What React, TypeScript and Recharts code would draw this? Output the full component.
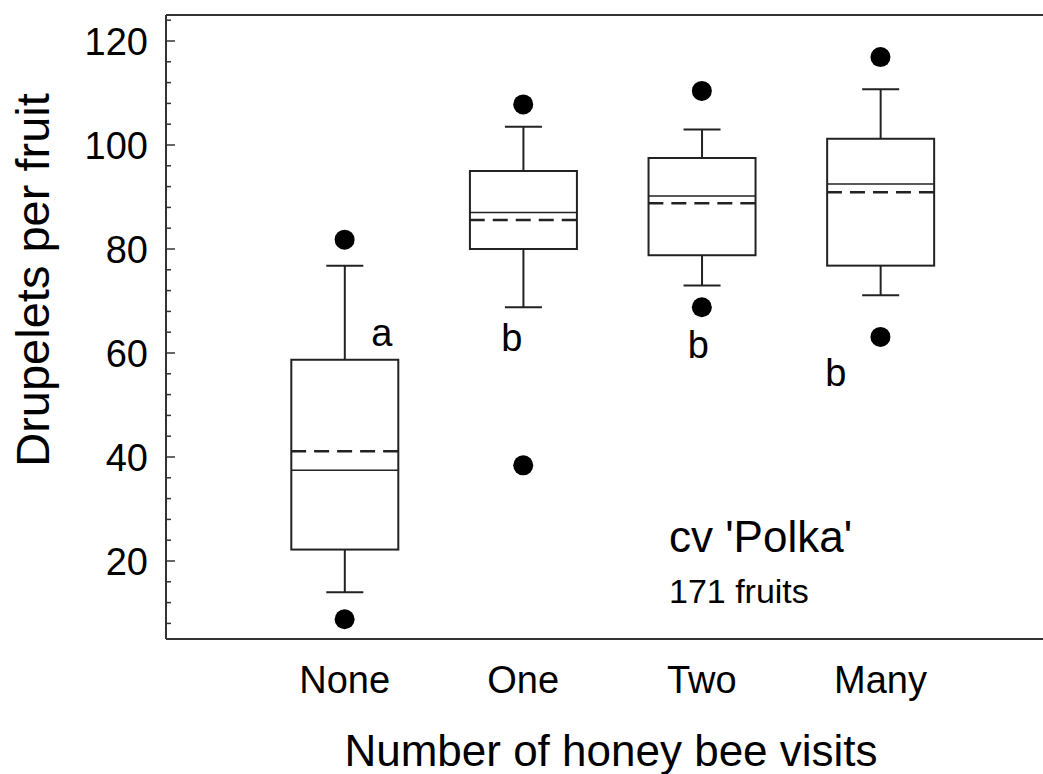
import React from 'react';
import { ComposedChart, XAxis, YAxis, Bar, Scatter, ReferenceLine, Label } from 'recharts';

const FONT = '"Liberation Sans", Arial, Helvetica, sans-serif';

// ---- data ----
const categories = ['None', 'One', 'Two', 'Many'];
const positions = [1, 2, 3, 4];
const q1 = [22.2, 80.0, 78.8, 76.8];
const q3 = [58.7, 95.0, 97.5, 101.2];
const medians = [37.45, 87.0, 90.2, 92.5];
const means = [41.1, 85.6, 88.8, 90.9];
const whiskerLow = [14.0, 68.8, 73.0, 71.1];
const whiskerHigh = [76.8, 103.5, 103.0, 110.7];
const outlierLow = [8.8, 38.4, 68.8, 63.1];
const outlierHigh = [81.8, 107.8, 110.4, 116.9];

const letters = ['a', 'b', 'b', 'b'];
const letterX = [1.208, 1.936, 2.98, 3.75];
const letterY = [61.3, 60.3, 59.0, 53.7];

const notes = ["cv 'Polka'", '171 fruits'];
const noteX = [2.816, 2.816];
const noteY = [21.7, 12.0];

const yTicks = [8, 12, 16, 20, 24, 28, 32, 36, 40, 44, 48, 52, 56, 60, 64, 68, 72, 76, 80, 84, 88, 92, 96, 100, 104, 108, 112, 116, 120, 124];
const yLabelTicks = [20, 40, 60, 80, 100, 120];
const xDomain = [0, 4.91];
const yDomain = [5, 125];

const data = categories.map((name, i) => ({
  name,
  x: positions[i],
  box: [q1[i], q3[i]],
  upper: [q3[i], whiskerHigh[i]],
  lower: [whiskerLow[i], q1[i]],
  median: medians[i],
  mean: means[i],
  outHi: outlierHigh[i],
  outLo: outlierLow[i],
}));

const letterData = letters.map((t, i) => ({ x: letterX[i], y: letterY[i], text: t }));
const noteData = notes.map((t, i) => ({ x: noteX[i], y: noteY[i], text: t, idx: i }));

const LINE = '#222';
const BOX_W = 107;
const CAP_W = 37;

const BoxShape = (p: any) => {
  const top = Math.min(p.y, p.y + p.height);
  const h = Math.abs(p.height);
  return <rect x={p.x} y={top} width={p.width} height={h} fill="#fff" stroke={LINE} strokeWidth={2} />;
};

const UpperWhisker = (p: any) => {
  const top = Math.min(p.y, p.y + p.height);
  const bottom = Math.max(p.y, p.y + p.height);
  const cx = p.x + p.width / 2;
  return (
    <g>
      <line x1={cx} x2={cx} y1={top} y2={bottom} stroke={LINE} strokeWidth={2} />
      <line x1={p.x} x2={p.x + p.width} y1={top} y2={top} stroke={LINE} strokeWidth={2} />
    </g>
  );
};

const LowerWhisker = (p: any) => {
  const top = Math.min(p.y, p.y + p.height);
  const bottom = Math.max(p.y, p.y + p.height);
  const cx = p.x + p.width / 2;
  return (
    <g>
      <line x1={cx} x2={cx} y1={top} y2={bottom} stroke={LINE} strokeWidth={2} />
      <line x1={p.x} x2={p.x + p.width} y1={bottom} y2={bottom} stroke={LINE} strokeWidth={2} />
    </g>
  );
};

const MedianShape = (p: any) => (
  <line x1={p.cx - BOX_W / 2} x2={p.cx + BOX_W / 2} y1={p.cy} y2={p.cy} stroke={LINE} strokeWidth={1.5} />
);

const MeanShape = (p: any) => (
  <line x1={p.cx - BOX_W / 2} x2={p.cx + BOX_W / 2 + 2} y1={p.cy} y2={p.cy} stroke={LINE} strokeWidth={2.5} strokeDasharray="15 8" />
);

const DotShape = (p: any) => <circle cx={p.cx} cy={p.cy} r={10} fill="#000" />;

const LetterShape = (p: any) => (
  <text x={p.cx} y={p.cy} textAnchor="middle" fontSize={38} fontFamily={FONT} fill="#000">
    {p.payload.text}
  </text>
);

const NoteShape = (p: any) => (
  <text x={p.cx} y={p.cy} textAnchor="start" fontSize={p.payload.idx === 0 ? 44 : 34} fontFamily={FONT} fill="#000">
    {p.payload.text}
  </text>
);

const YTick = (props: any) => {
  const { x, y, payload } = props;
  const v = payload.value;
  const major = yLabelTicks.includes(v);
  const ax = x + 18;
  return (
    <g>
      <line x1={ax} x2={ax + (major ? 9 : 5)} y1={y} y2={y} stroke="#333" strokeWidth={1.5} />
      {major && (
        <text x={x} y={y + 14} textAnchor="end" fontSize={38} fontFamily={FONT} fill="#000">
          {v}
        </text>
      )}
    </g>
  );
};

const XTick = (props: any) => {
  const { x, y, payload } = props;
  const idx = positions.indexOf(payload.value);
  return (
    <text x={x} y={y} textAnchor="middle" fontSize={38} fontFamily={FONT} fill="#000">
      {idx >= 0 ? categories[idx] : ''}
    </text>
  );
};

const XTitle = (props: any) => {
  const vb = props.viewBox || { x: 166, y: 639, width: 877, height: 135 };
  return (
    <text x={vb.x + 445} y={vb.y + 127} textAnchor="middle" fontSize={44} fontFamily={FONT} fill="#000">
      Number of honey bee visits
    </text>
  );
};

const YTitle = (props: any) => {
  const vb = props.viewBox || { x: 0, y: 15, width: 166, height: 624 };
  const cx = vb.x + 48.5;
  const cy = vb.y + 265;
  return (
    <text x={cx} y={cy} transform={`rotate(-90, ${cx}, ${cy})`} textAnchor="middle" fontSize={47} fontFamily={FONT} fill="#000">
      Drupelets per fruit
    </text>
  );
};

export default function App() {
  return (
    <div style={{ position: 'absolute', left: 0, top: 0, width: 1043, height: 774, background: '#fff', fontFamily: FONT }}>
      <ComposedChart width={1043} height={774} data={data} margin={{ top: 15, right: 0, bottom: 0, left: 0 }}>
        <XAxis
          xAxisId={0}
          dataKey="x"
          type="number"
          domain={xDomain}
          allowDataOverflow
          ticks={positions}
          interval={0}
          tick={XTick}
          tickLine={false}
          tickSize={0}
          tickMargin={54}
          height={135}
          axisLine={{ stroke: '#333', strokeWidth: 2 }}
        >
          <Label content={XTitle} />
        </XAxis>
        <XAxis xAxisId="w1" dataKey="x" type="number" domain={xDomain} allowDataOverflow hide />
        <XAxis xAxisId="w2" dataKey="x" type="number" domain={xDomain} allowDataOverflow hide />
        <XAxis xAxisId="bx" dataKey="x" type="number" domain={xDomain} allowDataOverflow hide />
        <YAxis
          type="number"
          domain={yDomain}
          allowDataOverflow
          ticks={yTicks}
          interval={0}
          tick={YTick}
          tickLine={false}
          tickSize={0}
          tickMargin={18}
          width={166}
          axisLine={{ stroke: '#333', strokeWidth: 2 }}
        >
          <Label content={YTitle} />
        </YAxis>
        <ReferenceLine y={125} stroke="#333" strokeWidth={2} />
        <Bar xAxisId="w1" dataKey="upper" barSize={CAP_W} shape={UpperWhisker} isAnimationActive={false} />
        <Bar xAxisId="w2" dataKey="lower" barSize={CAP_W} shape={LowerWhisker} isAnimationActive={false} />
        <Bar xAxisId="bx" dataKey="box" barSize={BOX_W} shape={BoxShape} isAnimationActive={false} />
        <Scatter xAxisId={0} dataKey="median" shape={MedianShape} isAnimationActive={false} />
        <Scatter xAxisId={0} dataKey="mean" shape={MeanShape} isAnimationActive={false} />
        <Scatter xAxisId={0} dataKey="outHi" shape={DotShape} isAnimationActive={false} />
        <Scatter xAxisId={0} dataKey="outLo" shape={DotShape} isAnimationActive={false} />
        <Scatter xAxisId={0} data={letterData} dataKey="y" shape={LetterShape} isAnimationActive={false} />
        <Scatter xAxisId={0} data={noteData} dataKey="y" shape={NoteShape} isAnimationActive={false} />
      </ComposedChart>
    </div>
  );
}
